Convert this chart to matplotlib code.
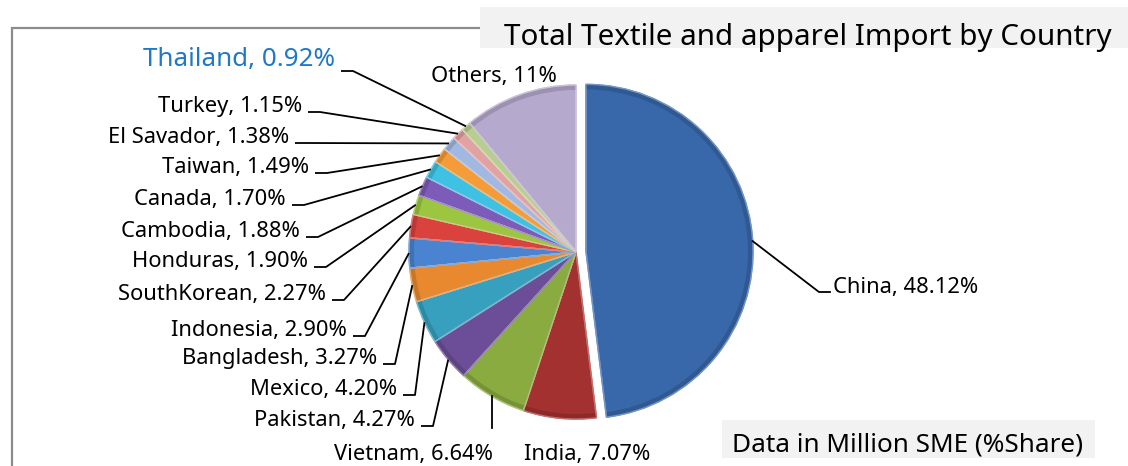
import numpy as np
import matplotlib
matplotlib.use("Agg")
import matplotlib.pyplot as plt
import matplotlib.colors as mcolors
from matplotlib.patches import Rectangle, Wedge

# ---------------- data ----------------
countries = ["China", "India", "Vietnam", "Pakistan", "Mexico", "Bangladesh",
             "Indonesia", "SouthKorean", "Honduras", "Cambodia", "Canada",
             "Taiwan", "El Savador", "Turkey", "Thailand", "Others"]
shares = [48.12, 7.07, 6.64, 4.27, 4.20, 3.27, 2.90, 2.27, 1.90, 1.88, 1.70,
          1.49, 1.38, 1.15, 0.92, 11.0]
share_labels = ["48.12%", "7.07%", "6.64%", "4.27%", "4.20%", "3.27%", "2.90%",
                "2.27%", "1.90%", "1.88%", "1.70%", "1.49%", "1.38%", "1.15%",
                "0.92%", "11%"]
colors = ["#3867AA", "#A3312F", "#8AAB40", "#6B4E97", "#36A0BE", "#E8892F",
          "#4A84D0", "#D9423D", "#9CC640", "#7D5BB8", "#3EC1E2", "#F59B37",
          "#A0B8E2", "#E2A2A2", "#B8CE90", "#B5A9CD"]
title = "Total Textile and apparel Import by Country"
note = "Data in Million SME (%Share)"

# ---------------- layout (pixel coords, y downward) ----------------
W, H = 1128, 466
def Y(y):
    return H - y

FONT = ["Noto Sans", "DejaVu Sans"]
LFS = 15.8

fig = plt.figure(figsize=(W / 100, H / 100), dpi=100)
ax = fig.add_axes([0, 0, 1, 1])

center = (576, Y(252))
radius = 167
explode = [10] + [0] * (len(shares) - 1)
wedges, _ = ax.pie(shares, colors=colors, startangle=90, counterclock=False,
                   center=center, radius=radius, explode=explode,
                   wedgeprops=dict(linewidth=0))

def shade(c, f):
    r, g, b = mcolors.to_rgb(c)
    if f < 1:
        return (r * f, g * f, b * f)
    f = f - 1
    return (r + (1 - r) * f, g + (1 - g) * f, b + (1 - b) * f)

# soft bevel-like rim: slightly darker outer ring, light edge highlight
for w, c in zip(wedges, colors):
    rim = Wedge(w.center, w.r, w.theta1, w.theta2, width=5,
                facecolor=shade(c, 0.86), edgecolor="none",
                zorder=w.get_zorder() + 0.1)
    ax.add_patch(rim)
    w.set_edgecolor(shade(c, 1.3))
    w.set_linewidth(1.0)
    w.set_facecolor("none")
    inner = Wedge(w.center, w.r, w.theta1, w.theta2, facecolor="none",
                  edgecolor=shade(c, 1.3), linewidth=1.0,
                  zorder=w.get_zorder() + 0.2)
    ax.add_patch(inner)
    base = Wedge(w.center, w.r, w.theta1, w.theta2, facecolor=c,
                 edgecolor="none", zorder=w.get_zorder() - 0.1)
    ax.add_patch(base)

ax.set_xlim(0, W)
ax.set_ylim(0, H)
ax.set_aspect("auto")
ax.axis("off")

def edge_point(w):
    a = np.deg2rad((w.theta1 + w.theta2) / 2)
    cx, cy = w.center
    return cx + w.r * np.cos(a), cy + w.r * np.sin(a)

# left labels: text right edge x, baseline y
left_layout = {
    "Thailand": (335, 66),
    "Turkey": (302, 112),
    "El Savador": (289, 143),
    "Taiwan": (309, 173),
    "Canada": (286, 205),
    "Cambodia": (300, 237),
    "Honduras": (308, 267),
    "SouthKorean": (326, 300),
    "Indonesia": (347, 336),
    "Bangladesh": (377, 364),
    "Mexico": (397, 395),
    "Pakistan": (415, 426),
}

lw = 1.3
for name, share_txt, w in zip(countries, share_labels, wedges):
    txt = f"{name}, {share_txt}"
    ex, ey = edge_point(w)
    if name in left_layout:
        tx, ty = left_layout[name]
        color = "#1F78C8" if name == "Thailand" else "black"
        fs = 18.7 if name == "Thailand" else LFS
        ax.text(tx, Y(ty), txt, ha="right", va="baseline", fontsize=fs,
                color=color, family=FONT)
        ely = ty + (5 if name == "Thailand" else 0)
        x0 = tx + 6
        x1 = tx + 18
        ax.plot([x0, x1, ex], [Y(ely), Y(ely), ey], color="black", lw=lw,
                solid_capstyle="butt")
    elif name == "China":
        tx, ty = 833, 293
        ax.text(tx, Y(ty), txt, ha="left", va="baseline", fontsize=LFS,
                family=FONT)
        ax.plot([tx - 3, tx - 14, ex], [Y(ty - 1), Y(ty - 1), ey],
                color="black", lw=lw)
    elif name == "Vietnam":
        ax.text(413, Y(460), txt, ha="center", va="baseline", fontsize=LFS,
                family=FONT)
        ax.plot([ex, ex], [ey, Y(428)], color="black", lw=lw)
    elif name == "India":
        ax.text(587, Y(460), txt, ha="center", va="baseline", fontsize=LFS,
                family=FONT)
    elif name == "Others":
        ax.text(494, Y(82), txt, ha="center", va="baseline", fontsize=LFS,
                family=FONT)

# chart frame (partially hidden)
ax.plot([12, 12, 480], [0, Y(28), Y(28)], color="#8C8C8C", lw=1.6,
        solid_joinstyle="miter")

# title box
tbox = Rectangle((480, Y(48)), W - 480, 41, facecolor="#F2F2F2",
                 edgecolor="none", zorder=5)
ax.add_patch(tbox)
t = ax.text(504, Y(45), title, ha="left", va="baseline", fontsize=21.3,
            family=FONT, zorder=6)
t.set_clip_path(tbox)

# note box
nbox = Rectangle((722, Y(458)), 373, 38, facecolor="#F2F2F2",
                 edgecolor="none", zorder=5)
ax.add_patch(nbox)
ax.text(908, Y(452), note, ha="center", va="baseline", fontsize=18.8,
        family=FONT, zorder=6)

fig.savefig("out.png", dpi=100)
